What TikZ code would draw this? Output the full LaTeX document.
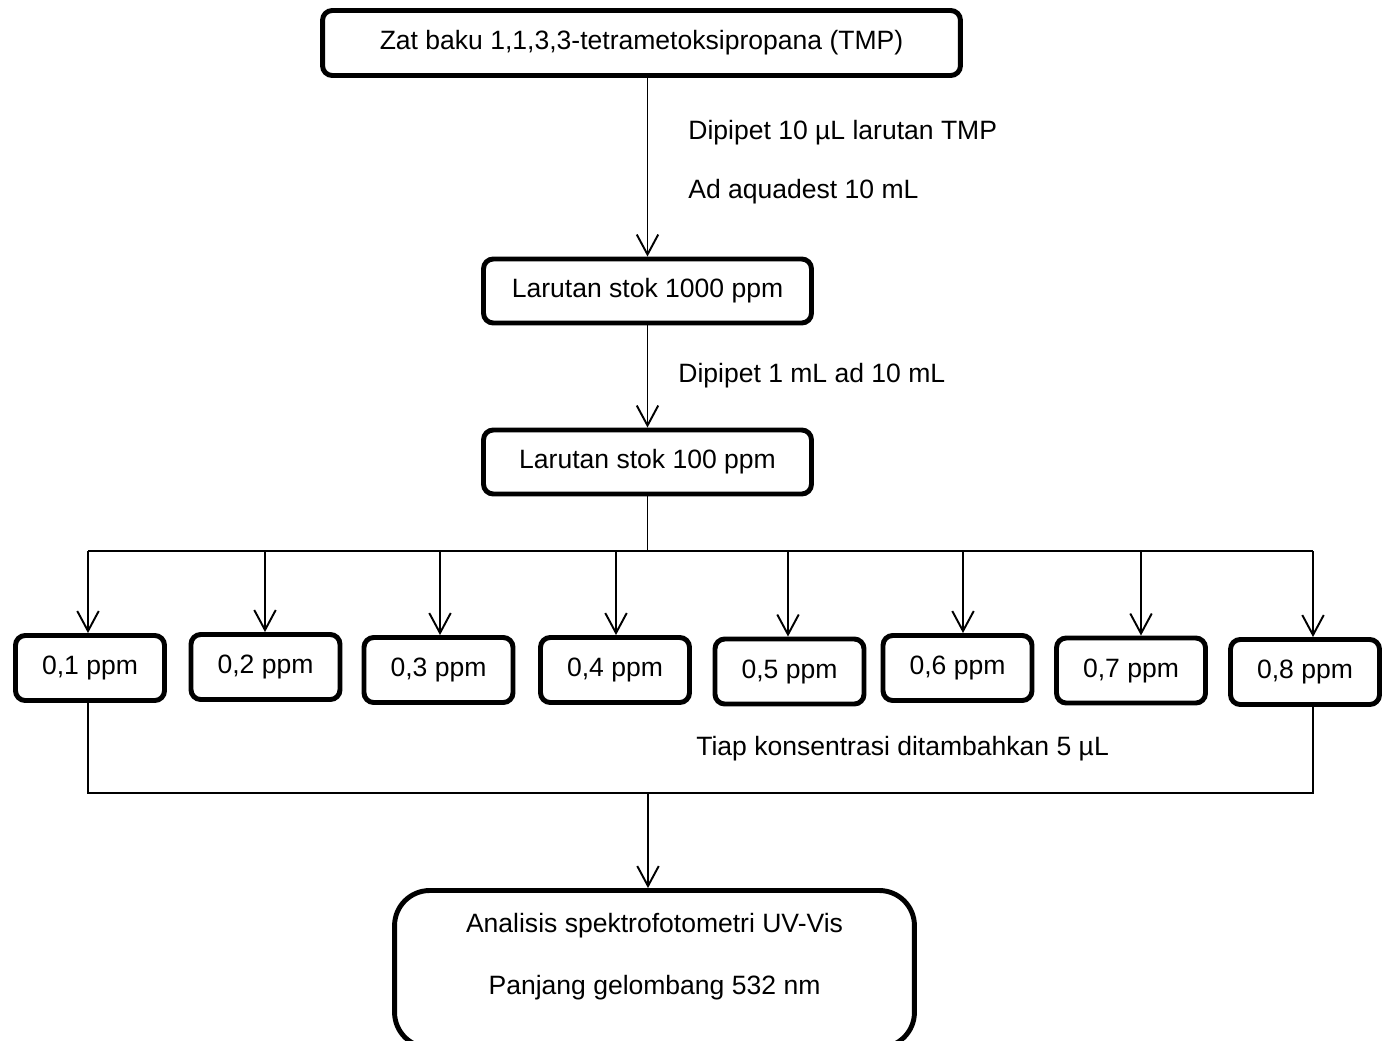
\documentclass[tikz,border=0pt]{standalone}
\usepackage{fontspec}
\setmainfont{Liberation Sans}
\usetikzlibrary{positioning,arrows.meta,calc}

\begin{document}
\begin{tikzpicture}[
      x=0.02cm,y=-0.02cm,
      >={Straight Barb[length=4mm,width=4.3mm]},
      every node/.style={font=\fontsize{15.1}{18}\selectfont},
      box/.style={draw=black,line width=2.8pt,rounded corners=5.5pt,inner sep=0pt},
      stok/.style={box,minimum width=6.56cm,minimum height=1.28cm},
      ppm/.style={box,minimum width=2.98cm,minimum height=1.3cm},
      lbl/.style={anchor=west,inner sep=0pt},
      con/.style={draw=black,line width=1.1pt}
    ]
    \useasboundingbox (0,0) rectangle (1390,1041);
    % standard and stock solutions
    \node[box,minimum width=12.76cm,minimum height=1.3cm] (tmp) at (641.5,43) {Zat baku 1,1,3,3-tetrametoksipropana (TMP)};
    \node[stok] (st1) at (647.5,291) {Larutan stok 1000 ppm};
    \node[stok] (st2) at (647.5,462) {Larutan stok 100 ppm};
    \draw[con,->] (tmp.south -| st1.north) -- (st1.north);
    \node[lbl] (l1) at (688,133) {Dipipet 10 µL larutan TMP};
    \node[lbl] (l2) at (688,192) {Ad aquadest 10 mL};
    \draw[con,->] (st1.south) -- (st2.north);
    \node[lbl] (l3) at (678,376) {Dipipet 1 mL ad 10 mL};
    % dilution series
    \foreach \i/\x/\y/\ax in {1/90/668/88, 2/265.5/667/265, 3/438.5/670/440, 4/615/670/616,
                              5/789.5/671.5/788, 6/957.5/668/963, 7/1131/670.5/1141, 8/1305/672/1313}{
      \node[ppm] (c\i) at (\x,\y) {0,\i{} ppm};
      \coordinate (a\i) at (\ax,551);
      \draw[con,->] (a\i) -- (a\i |- c\i.north);
    }
    \draw[con] (st2.south) -- (st2.south |- a1);
    \draw[con] (a1) -- (a8);
    % collect and measure
    \coordinate (jn) at (648,793);
    \draw[con] (a1 |- c1.south) |- (jn) -| (a8 |- c8.south);
    \node[lbl] (l4) at (696,749) {Tiap konsentrasi ditambahkan 5 µL};
    \node[box,minimum width=10.4cm,minimum height=3.14cm,rounded corners=20pt] (uv) at (654.5,969) {};
    \node[align=center,font=\fontsize{15.1}{35.7}\selectfont] (uvt) at ($(uv.center)+(0,-12.5)$) {Analisis spektrofotometri UV-Vis\\Panjang gelombang 532 nm};
    \draw[con,->] (jn) -- (jn |- uv.north);
  \end{tikzpicture}
\end{document}
